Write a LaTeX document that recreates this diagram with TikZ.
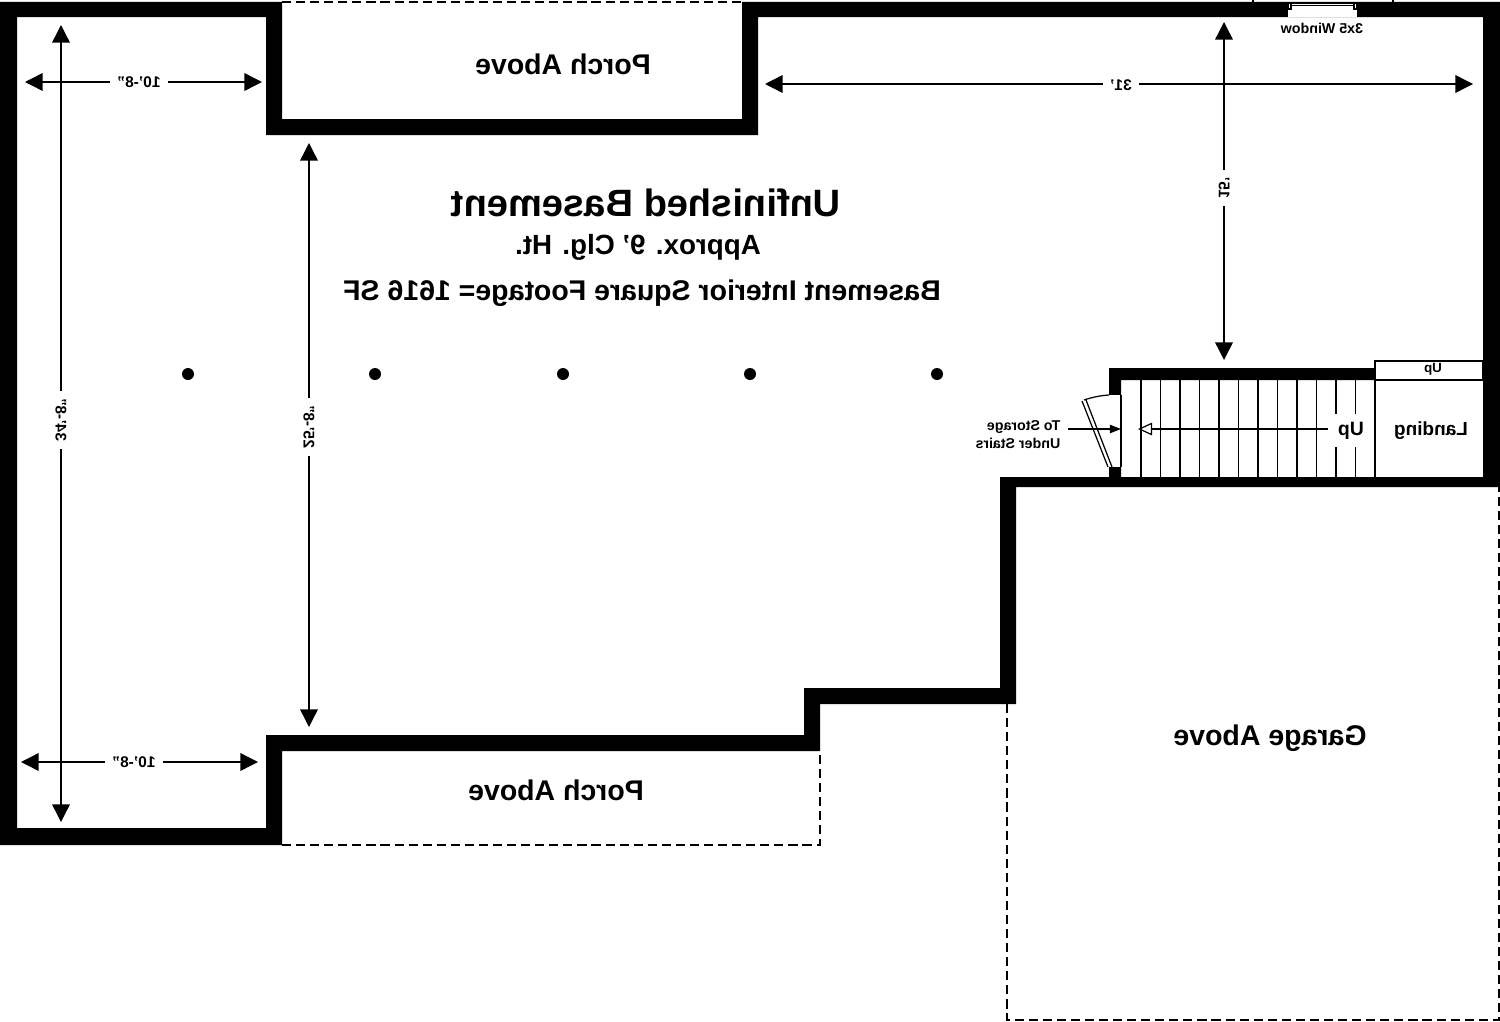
\documentclass[tikz,border=0pt]{standalone}
\usepackage{fontspec}
\setmainfont{Liberation Sans}
\usetikzlibrary{arrows.meta}
\tikzset{
  mirror/.style={xscale=-1, transform shape, inner sep=1pt},
  dimtext/.style={mirror, fill=white, inner xsep=2pt, font=\bfseries\fontsize{4.4}{5}\selectfont},
  vdimtext/.style={xscale=-1, rotate=90, transform shape, inner sep=1pt, inner xsep=2pt, fill=white, font=\bfseries\fontsize{4.4}{5}\selectfont},
  roomtext/.style={mirror, font=\bfseries\fontsize{8.1}{9}\selectfont},
  wall/.style={fill=black, draw=none, even odd rule},
  dim/.style={line width=0.4pt, {Triangle[length=5pt,width=5pt]}-{Triangle[length=5pt,width=5pt]}},
  thinline/.style={line width=0.35pt},
  dashline/.style={line width=0.5pt, dash pattern=on 2.6pt off 1.4pt},
}
\begin{document}
\begin{tikzpicture}[x=0.01cm, y=-0.01cm]
      \useasboundingbox (0, 0) rectangle (1500, 1021);
      % walls
      \fill[wall] (0, 2) -- (282, 2) -- (282, 119) -- (742, 119) -- (742, 2) -- (1500, 2)
                  -- (1500, 487) -- (1016, 487) -- (1016, 704) -- (820, 704) -- (820, 751)
                  -- (282, 751) -- (282, 845) -- (0, 845) -- cycle
                  (17, 17) -- (17, 828) -- (266, 828) -- (266, 735) -- (804, 735) -- (804, 688)
                  -- (1000, 688) -- (1000, 477) -- (1109, 477) -- (1109, 368) -- (1375, 368)
                  -- (1375, 380) -- (1121, 380) -- (1121, 477) -- (1483, 477) -- (1483, 17)
                  -- (758, 17) -- (758, 135) -- (266, 135) -- (266, 17) -- cycle;
      % porch, garage
      \draw[dashline] (282, 2) -- (742, 2);
      \draw[dashline] (282, 845) -- (820, 845) -- (820, 751);
      \draw[dashline] (1007, 704) -- (1007, 1020) -- (1499, 1020) -- (1499, 487);
      % window
      \fill[white] (1288, 3) rectangle (1357, 17);
      \draw[thinline] (1291, 3) -- (1354, 3);
      \draw[line width=0.55pt] (1291, 5.5) -- (1354, 5.5);
      \draw[thinline] (1288, 3) rectangle (1291, 9) (1354, 3) rectangle (1357, 9);
      \draw[thinline] (1253, 0) -- (1253, 2) (1393, 0) -- (1393, 2);
      \node[dimtext, fill=none, font=\bfseries\fontsize{4.05}{5}\selectfont] (window) at (1322, 28) {3x5 Window};
      % stairs
      \foreach \tread in {1141, 1160.5, 1180, 1199.5, 1219, 1238.5, 1258, 1277.5, 1297, 1316.5, 1336, 1355.5, 1375}
        \draw[thinline] (\tread, 380) -- (\tread, 477);
      \draw[thinline] (1375, 361) rectangle (1483, 380);
      \node[dimtext, fill=none, font=\bfseries\fontsize{3.8}{5}\selectfont] (upbox) at (1433, 369) {Up};
      \node[mirror, font=\fontsize{5.4}{6}\selectfont\bfseries] (landing) at (1431, 430.5) {Landing};
      \node[mirror, fill=white, font=\fontsize{5.5}{6}\selectfont\bfseries, inner sep=2.2pt] (upstair) at (1351, 430.5) {Up};
      \coordinate (upend) at (1138, 429);
      \coordinate (upstart) at (1328, 429);
      \draw[thinline, -{Triangle[open, length=4pt, width=3.6pt]}] (upstart) -- (upend);
      % door
      \fill[white] (1109, 395) rectangle (1121, 467);
      \draw[thinline] (1121, 395) -- (1121, 467);
      \draw[thinline] (1082, 401) -- (1108, 467) (1086, 400) -- (1112, 467);
      \draw[thinline] (1084, 400) .. controls (1093, 397) and (1101, 395.5) .. (1109, 395);
      \node[mirror, font=\fontsize{4.05}{5.1}\selectfont\bfseries, align=left, anchor=west] (storage) at (1064.5, 435) {To Storage\\Under Stairs};
      \coordinate (storagein) at (1121, 429);
      \coordinate (storageout) at (1068, 429);
      \draw[thinline, -{Triangle[length=3.2pt, width=2.4pt]}] (storageout) -- (storagein);
      % columns
      \foreach \col in {188, 375, 563, 750, 937}
        \fill (\col, 374) circle (6);
      % dimensions
      \coordinate (a1) at (61, 25);     \coordinate (a2) at (61, 822);
      \coordinate (b1) at (309, 143);   \coordinate (b2) at (309, 727);
      \coordinate (c1) at (25, 82);     \coordinate (c2) at (262, 82);
      \coordinate (d1) at (21, 762);    \coordinate (d2) at (258, 762);
      \coordinate (e1) at (765, 84);    \coordinate (e2) at (1473, 84);
      \coordinate (f1) at (1224, 22);   \coordinate (f2) at (1224, 360);
      \draw[dim] (a1) -- (a2);
      \draw[dim] (b1) -- (b2);
      \draw[dim] (c1) -- (c2);
      \draw[dim] (d1) -- (d2);
      \draw[dim] (e1) -- (e2);
      \draw[dim] (f1) -- (f2);
      \node[vdimtext] (a) at (61, 420) {34'-8"};
      \node[vdimtext] (b) at (309, 427) {25'-8"};
      \node[dimtext] (c) at (139, 82) {10'-8"};
      \node[dimtext] (d) at (134, 762) {10'-8"};
      \node[dimtext] (e) at (1121, 85) {31'};
      \node[vdimtext] (f) at (1224, 188) {15'};
      % labels
      \node[roomtext] (porchtop) at (563, 64) {Porch Above};
      \node[roomtext] (porchbot) at (556, 790) {Porch Above};
      \node[roomtext] (garage) at (1270, 738) {Garage Above};
      \node[mirror, font=\bfseries\fontsize{10.84}{12}\selectfont] (title) at (646, 203) {Unfinished Basement};
      \node[roomtext, font=\bfseries\fontsize{7.9}{9}\selectfont] (clg) at (638, 247) {Approx. 9' Clg. Ht.};
      \node[roomtext] (area) at (642, 293) {Basement Interior Square Footage= 1616 SF};
\end{tikzpicture}
\end{document}
